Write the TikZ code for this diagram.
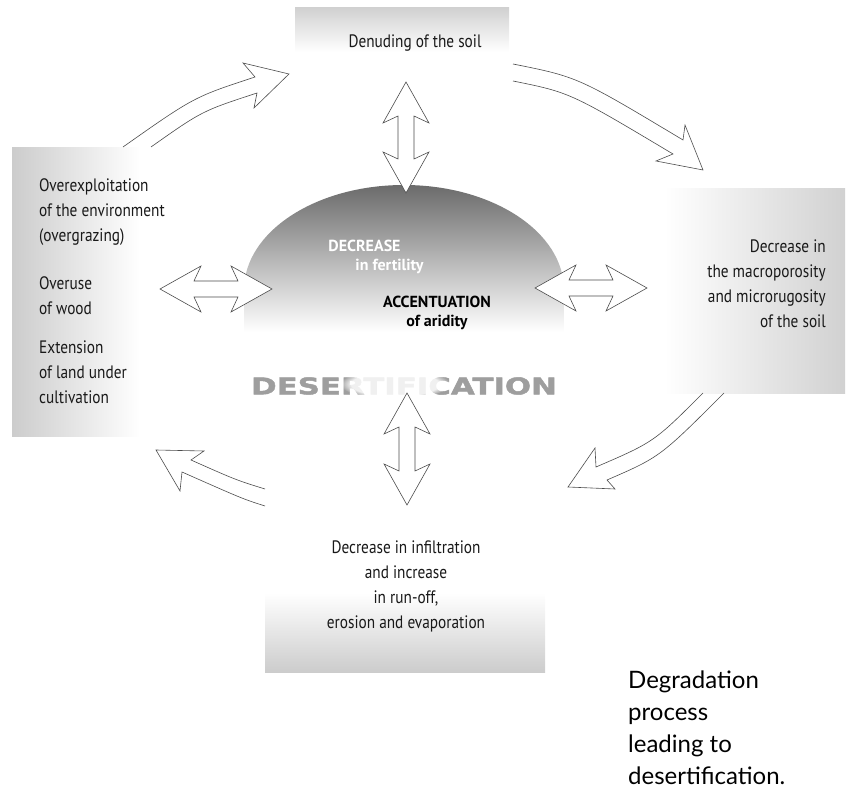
\documentclass[tikz,border=0pt]{standalone}
\usepackage{fontspec}
\usetikzlibrary{calc,positioning,fadings}
\newfontfamily\labelfont{PT Sans}[FakeStretch=0.85]
\newfontfamily\domefont{PT Sans}
\newfontfamily\bigfont{DejaVu Sans}[FakeStretch=1.34, BoldFeatures={FakeBold=2}]
\newfontfamily\captionfont{Lato}
\tikzset{
    cycle text/.style={font=\labelfont\fontsize{18}{25}\selectfont, text=black!90, inner sep=0pt},
    dome text/.style={font=\domefont\bfseries\fontsize{16}{19}\selectfont, inner sep=0pt},
    hollow arrow/.style={draw=black!70, line width=0.6pt, fill=white, line join=miter, miter limit=20},
    shaft line/.style={draw=black!70, line width=0.6pt, line join=miter, miter limit=20}
}
% hollow double arrow between two named tips
\newcommand{\dblarrow}[2]{%
  \filldraw[hollow arrow] (#1)
    -- ($(#1)!41pt!(#2)!23pt!90:(#2)$) -- ($(#1)!34pt!(#2)!8pt!90:(#2)$)
    -- ($(#2)!34pt!(#1)!8pt!-90:(#1)$) -- ($(#2)!41pt!(#1)!23pt!-90:(#1)$)
    -- (#2)
    -- ($(#2)!41pt!(#1)!23pt!90:(#1)$) -- ($(#2)!34pt!(#1)!8pt!90:(#1)$)
    -- ($(#1)!34pt!(#2)!8pt!-90:(#2)$) -- ($(#1)!41pt!(#2)!23pt!-90:(#2)$)
    -- cycle;}

\begin{document}
\begin{tikzpicture}[x=1pt,y=-1pt]
  \useasboundingbox (0,0) rectangle (852,791);

  % shaded boxes
  \shade[top color=black!18, bottom color=white] (295,8) rectangle (509,52);
  \shade[left color=black!20, right color=white] (12,148) rectangle (140,437);
  \shade[left color=white, right color=black!18] (665,189) rectangle (845,394);
  \shade[top color=white, bottom color=black!20] (265,593) rectangle (545,672);

  % dome
  \shade[top color=black!58, middle color=black!38, bottom color=white]
    (244,332) -- (244,290) arc[start angle=180, end angle=360, x radius=160, y radius=105]
    -- (564,332) -- cycle;

  \node[cycle text] (denude) at (415,43) {Denuding of the soil};
  \node[cycle text, align=left, anchor=west] (overexp) at (39,212) {Overexploitation\\of the environment\\(overgrazing)};
  \node[cycle text, align=left, anchor=west] (overuse) at (39,296) {Overuse\\of wood};
  \node[cycle text, align=left, anchor=west] (extension) at (39,372) {Extension\\of land under\\cultivation};
  \node[cycle text, align=right, anchor=east] (macro) at (826,284) {Decrease in\\the macroporosity\\and microrugosity\\of the soil};
  \node[cycle text, align=center] (runoff) at (406,586) {Decrease in infiltration\\and increase\\in run-off,\\erosion and evaporation};

  \node[dome text, text=white, align=left] (fertility) at (376,257) {DECREASE\\\hspace*{27pt}in fertility};
  \node[dome text, align=center] (aridity) at (437,313) {ACCENTUATION\\of aridity};
  \node[font=\bigfont\bfseries\fontsize{23}{23}\selectfont, text=black!38, inner sep=0pt] (desert) at (404,386) {DESERTIFICATION};
  \fill[white, fill opacity=0.85, path fading=circle with fuzzy edge 20 percent] (395,384) ellipse [x radius=55, y radius=15];

  \node[font=\captionfont\fontsize{24}{32}\selectfont, align=left, anchor=north west, inner sep=0pt] (caption) at (628,671) {Degradation\\process\\leading to\\desertification.};

  % straight arrows
  \coordinate (upA) at (406,82);   \coordinate (upB) at (406,193);
  \coordinate (dnA) at (407,393);  \coordinate (dnB) at (407,505);
  \coordinate (lfA) at (160,289);  \coordinate (lfB) at (272,289);
  \coordinate (rtA) at (535,288);  \coordinate (rtB) at (647,288);
  \dblarrow{upA}{upB}
  \dblarrow{dnA}{dnB}
  \dblarrow{lfA}{lfB}
  \dblarrow{rtA}{rtB}

  % curved arrows round the cycle
  \draw[shaft line] (123,147) .. controls (194,97) .. (255,77) -- (243,63) -- (289,74)
    -- (254,108) -- (257,93) .. controls (202,111) .. (151,147);
  \draw[shaft line] (513,64) .. controls (578,77) .. (683,140) -- (685,125) -- (703,170)
    -- (656,161) -- (673,154) .. controls (570,92.5) .. (513,81);
  \draw[shaft line] (703,393) .. controls (654,442) .. (596,467) -- (595,448) -- (568,487)
    -- (615,489) -- (607,480) .. controls (660,457) .. (724,393);
  \draw[shaft line] (265,489) .. controls (236,480) .. (191,460) -- (204,451) -- (156,450)
    -- (180,491) -- (182,472) .. controls (243,499) .. (265,506);
\end{tikzpicture}
\end{document}
